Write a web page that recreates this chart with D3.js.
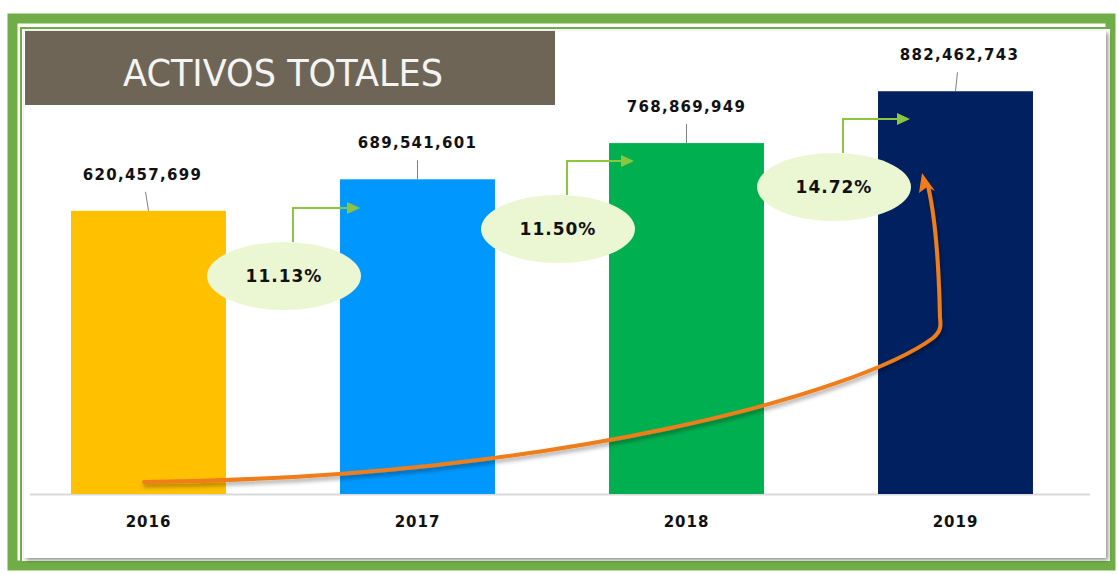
<!DOCTYPE html>
<html>
<head>
<meta charset="utf-8">
<script src="https://cdn.jsdelivr.net/npm/d3@7"></script>
<style>
  body { margin: 0; background: #fff; }
  svg text { font-family: "DejaVu Sans", sans-serif; }
</style>
</head>
<body>
<div id="container"></div>
<script>
// chart data
var years = ["2016", "2017", "2018", "2019"];
var totals = [620457699, 689541601, 768869949, 882462743];
var growth = ["11.13%", "11.50%", "14.72%"];
var barColors = ["#ffc000", "#0098ff", "#00b050", "#002060"];

var W = 1118, H = 574;

var svg = d3.select("#container").append("svg")
	.attr("width", W)
	.attr("height", H);

var defs = svg.append("defs");
var sh = defs.append("filter").attr("id", "shadow")
	.attr("x", "-5%").attr("y", "-5%").attr("width", "110%").attr("height", "110%");
sh.append("feDropShadow").attr("dx", 2).attr("dy", 2).attr("stdDeviation", 2)
	.attr("flood-color", "#000").attr("flood-opacity", 0.45);
var sh2 = defs.append("filter").attr("id", "lineShadow")
	.attr("x", "-10%").attr("y", "-10%").attr("width", "120%").attr("height", "130%");
sh2.append("feDropShadow").attr("dx", 1).attr("dy", 3).attr("stdDeviation", 2)
	.attr("flood-color", "#000").attr("flood-opacity", 0.35);

// green frame
svg.append("rect").attr("x", 12.5).attr("y", 18.5).attr("width", 1098).attr("height", 547)
	.attr("fill", "none").attr("stroke", "#70ad47").attr("stroke-width", 10);
svg.append("rect").attr("x", 21).attr("y", 28).attr("width", 1090).attr("height", 534)
	.attr("fill", "#fff").attr("stroke", "#70ad47").attr("stroke-width", 2);

// chart panel
svg.append("rect").attr("x", 24).attr("y", 31).attr("width", 1082).attr("height", 527)
	.attr("fill", "#fff").attr("filter", "url(#shadow)");

// scales
var x = d3.scaleBand()
	.domain(years)
	.range([14, 1090])
	.paddingInner(0.424)
	.paddingOuter(0.212);

var y = d3.scaleLinear()
	.domain([0, 1000000000])
	.range([494, 37.6]);

// baseline
svg.append("line")
	.attr("x1", 30).attr("x2", 1090)
	.attr("y1", y(0) + 0.5).attr("y2", y(0) + 0.5)
	.attr("stroke", "#d9d9d9").attr("stroke-width", 2);

// bars
svg.selectAll("rect.bar")
	.data(totals)
	.enter()
	.append("rect")
		.attr("class", "bar")
		.attr("x", (d, i) => x(years[i]))
		.attr("y", (d) => y(d))
		.attr("width", x.bandwidth())
		.attr("height", (d) => y(0) - y(d))
		.attr("fill", (d, i) => barColors[i]);

// year labels
var xAxis = d3.axisBottom(x).tickSize(0).tickPadding(0);
var gx = svg.append("g").attr("transform", "translate(0," + (y(0) + 22) + ")").call(xAxis);
gx.select(".domain").remove();
gx.selectAll("text")
	.attr("font-family", "DejaVu Sans")
	.attr("font-size", 15)
	.attr("font-weight", "bold")
	.attr("letter-spacing", 1)
	.attr("fill", "#111");

// value labels with leader lines
var fmt = d3.format(",");
var labelDx = [-6, 0, 0, 4];
svg.selectAll("line.leader")
	.data(totals)
	.enter()
	.append("line")
		.attr("class", "leader")
		.attr("x1", (d, i) => x(years[i]) + x.bandwidth() / 2 + labelDx[i] / 2)
		.attr("x2", (d, i) => x(years[i]) + x.bandwidth() / 2)
		.attr("y1", (d) => y(d) - 19)
		.attr("y2", (d) => y(d))
		.attr("stroke", "#7f7f7f").attr("stroke-width", 1);
svg.selectAll("text.value")
	.data(totals)
	.enter()
	.append("text")
		.attr("class", "value")
		.attr("x", (d, i) => x(years[i]) + x.bandwidth() / 2 + labelDx[i])
		.attr("y", (d) => y(d) - 31)
		.attr("text-anchor", "middle")
		.attr("font-size", 15)
		.attr("font-weight", "bold")
		.attr("letter-spacing", 1.3)
		.attr("fill", "#111")
		.text((d) => fmt(d));

// growth bubbles with elbow arrows
var bubbles = [
	{cx: 284, cy: 276},
	{cx: 558, cy: 229},
	{cx: 834, cy: 187}
];
var arrowHead = function(g, x0, y0) {
	g.append("path")
		.attr("d", "M" + x0 + "," + (y0 - 6) + " L" + (x0 + 13) + "," + y0 + " L" + x0 + "," + (y0 + 6) + " Z")
		.attr("fill", "#8cc63f");
};
var gb = svg.append("g");
bubbles.forEach(function(b, i) {
	var ax = b.cx + 9, top = b.cy - 34, ay = top - 34;
	gb.append("path")
		.attr("d", "M" + ax + "," + top + " V" + ay + " H" + (b.cx + 64))
		.attr("fill", "none").attr("stroke", "#8cc63f").attr("stroke-width", 2);
	arrowHead(gb, b.cx + 63, ay);
	gb.append("ellipse")
		.attr("cx", b.cx).attr("cy", b.cy).attr("rx", 77).attr("ry", 34)
		.attr("fill", "#ebf7d3");
	gb.append("text")
		.attr("x", b.cx).attr("y", b.cy + 6)
		.attr("text-anchor", "middle")
		.attr("font-size", 17)
		.attr("font-weight", "bold")
		.attr("letter-spacing", 1)
		.attr("fill", "#111")
		.text(growth[i]);
});

// orange trend arrow
var xs = x(years[0]) + 73;
var curve = d3.path();
curve.moveTo(xs, 482);
curve.bezierCurveTo(560, 478, 860, 392, 933, 338);
curve.bezierCurveTo(941, 331, 941, 326, 940, 318);
curve.bezierCurveTo(939, 270, 936, 220, 928, 186);
svg.append("path")
	.attr("d", curve.toString())
	.attr("fill", "none")
	.attr("stroke", "#f07d1a")
	.attr("stroke-width", 4)
	.attr("stroke-linecap", "round")
	.attr("filter", "url(#lineShadow)");
svg.append("path")
	.attr("d", "M922,173 L935,191 L927,187 L919,193 Z")
	.attr("fill", "#f07d1a");

// title box
svg.append("rect").attr("x", 25).attr("y", 31).attr("width", 530).attr("height", 74)
	.attr("fill", "#6f6557");
svg.append("text")
	.attr("x", 283).attr("y", 86)
	.attr("text-anchor", "middle")
	.attr("font-family", "DejaVu Sans")
	.attr("font-size", 38)
	.attr("fill", "#f4f4f4")
	.attr("textLength", 320)
	.attr("lengthAdjust", "spacingAndGlyphs")
	.text("ACTIVOS TOTALES");
</script>
</body>
</html>
